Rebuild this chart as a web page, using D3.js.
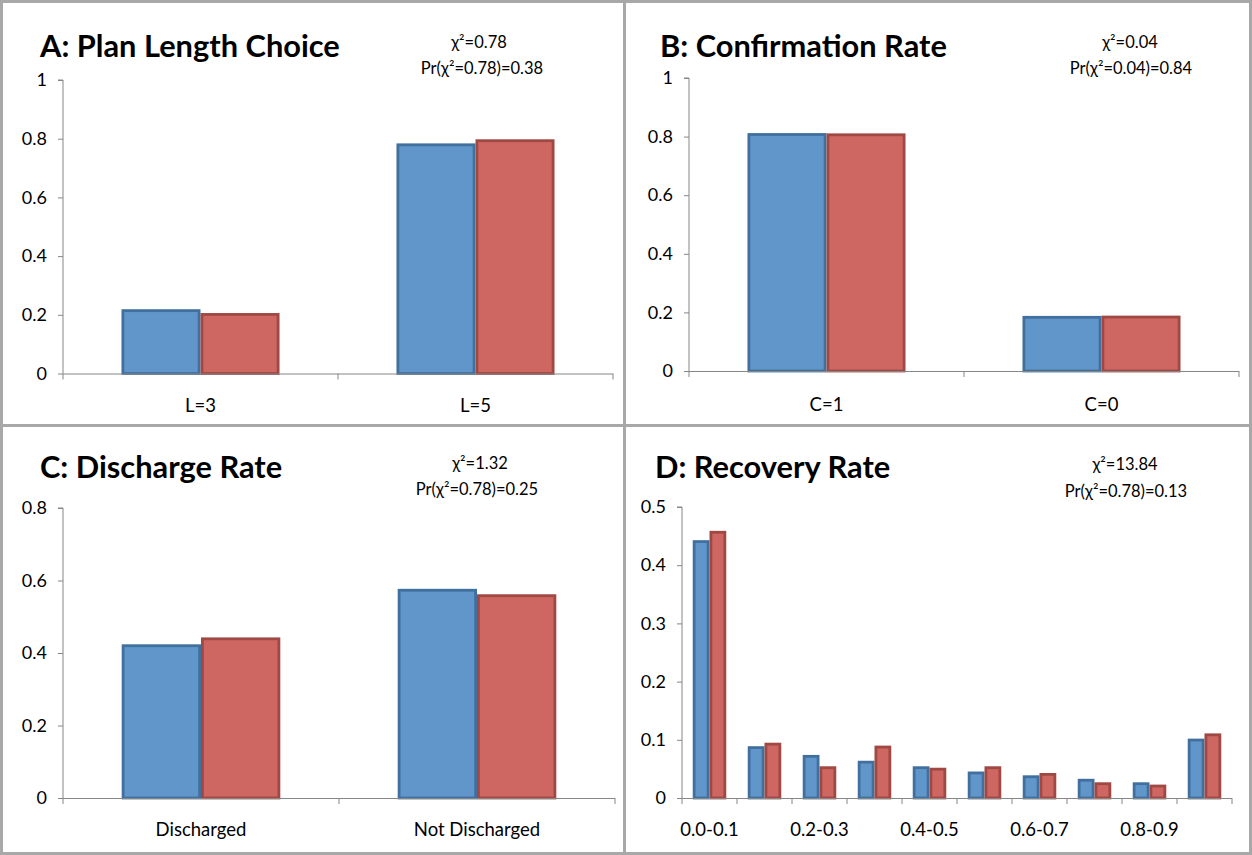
<!DOCTYPE html>
<html><head><meta charset="utf-8">
<script src="https://cdn.jsdelivr.net/npm/d3@7"></script>
<style>
html,body{margin:0;padding:0;background:#fff;}
text{font-family:Lato,"Open Sans",sans-serif;fill:#000;}
</style></head>
<body>
<svg id="chart" width="1252" height="855"></svg>
<script>
// ---------- data ----------
const titles = ["A: Plan Length Choice","B: Confirmation Rate","C: Discharge Rate","D: Recovery Rate"];
const chiLines = ["χ²=0.78","χ²=0.04","χ²=1.32","χ²=13.84"];
const prLines = ["Pr(χ²=0.78)=0.38","Pr(χ²=0.04)=0.84","Pr(χ²=0.78)=0.25","Pr(χ²=0.78)=0.13"];

const catsA = ["L=3","L=5"];
const blueA = [0.219,0.784];
const redA  = [0.206,0.798];

const catsB = ["C=1","C=0"];
const blueB = [0.812,0.188];
const redB  = [0.811,0.189];

const catsC = ["Discharged","Not Discharged"];
const blueC = [0.424,0.577];
const redC  = [0.443,0.562];

const catsD = ["0.0-0.1","0.1-0.2","0.2-0.3","0.3-0.4","0.4-0.5","0.5-0.6","0.6-0.7","0.7-0.8","0.8-0.9","0.9-1.0"];
const shownD = ["0.0-0.1","0.2-0.3","0.4-0.5","0.6-0.7","0.8-0.9"];
const blueD = [0.443,0.089,0.074,0.064,0.0545,0.0455,0.039,0.033,0.027,0.102];
const redD  = [0.459,0.095,0.0545,0.090,0.052,0.0545,0.043,0.027,0.023,0.111];

const yTicksA = [0,0.2,0.4,0.6,0.8,1];
const yTicksC = [0,0.2,0.4,0.6,0.8];
const yTicksD = [0,0.1,0.2,0.3,0.4,0.5];

// ---------- layout / style ----------
const svg = d3.select("#chart");
const blueFill="#6096ca", blueStroke="#41709f", redFill="#ce6661", redStroke="#a04844";
const axisColor="#868686";

const panels = [
 {cats:catsA, blue:blueA, red:redA, shown:catsA, ticks:yTicksA, x0:63, x1:613, yb:373.5, yt:80, title:[40,57], chi:[479,48], pr:[482,74], catY:412, pad:0.74},
 {cats:catsB, blue:blueB, red:redB, shown:catsB, ticks:yTicksA, x0:689, x1:1239, yb:371, yt:78, title:[660,57], chi:[1130,48], pr:[1131,74], catY:411, pad:0.74},
 {cats:catsC, blue:blueC, red:redC, shown:catsC, ticks:yTicksC, x0:63, x1:615, yb:798, yt:508, title:[40,478], chi:[480,469], pr:[477,495], catY:836, pad:0.74},
 {cats:catsD, blue:blueD, red:redD, shown:shownD, ticks:yTicksD, x0:682, x1:1232, yb:798, yt:507, title:[655,478], chi:[1125,470], pr:[1126,497], catY:836, pad:0.64},
];

// frame
svg.append("rect").attr("x",1.5).attr("y",1.5).attr("width",1249).attr("height",852)
  .attr("fill","none").attr("stroke","#a8a8a8").attr("stroke-width",3);
svg.append("line").attr("x1",624.5).attr("x2",624.5).attr("y1",0).attr("y2",855)
  .attr("stroke","#a8a8a8").attr("stroke-width",3);
svg.append("line").attr("x1",0).attr("x2",1252).attr("y1",425.5).attr("y2",425.5)
  .attr("stroke","#a8a8a8").attr("stroke-width",3);

panels.forEach((p,i)=>{
  const g = svg.append("g");
  const yMax = p.ticks[p.ticks.length-1];
  const y = d3.scaleLinear().domain([0,yMax]).range([p.yb,p.yt]);
  const x = d3.scaleBand().domain(p.cats).range([p.x0,p.x1]).paddingInner(0).paddingOuter(0);
  const xs = d3.scaleBand().domain(["blue","red"]).range([0,x.bandwidth()]).paddingInner(0).paddingOuter(p.pad);

  // y axis
  const ya = d3.axisLeft(y).tickValues(p.ticks).tickSize(5).tickPadding(11)
    .tickFormat(d=> d===0 ? "0" : String(+d.toFixed(1)));
  const yg = g.append("g").attr("transform",`translate(${p.x0},0)`).call(ya);
  yg.select(".domain").attr("stroke",axisColor).attr("d",`M-5,${p.yt}H0V${p.yb}`);
  yg.selectAll(".tick line").attr("stroke",axisColor);
  yg.selectAll(".tick text").style("font-size","18px").style("font-family","Lato, sans-serif").attr("fill","#000");

  // bars
  const data = p.cats.map((c,k)=>({c, blue:p.blue[k], red:p.red[k]}));
  const sw = 2.8;
  ["blue","red"].forEach(s=>{
    g.selectAll(null).data(data).enter().append("rect")
      .attr("x",d=>x(d.c)+xs(s)+sw/2)
      .attr("y",d=>y(d[s])+sw/2)
      .attr("width",xs.bandwidth()-sw)
      .attr("height",d=>Math.max(0,y(0)-y(d[s])-sw/2))
      .attr("fill", s==="blue"?blueFill:redFill)
      .attr("stroke", s==="blue"?blueStroke:redStroke)
      .attr("stroke-width",sw);
  });

  // x axis
  g.append("line").attr("x1",p.x0).attr("x2",p.x1).attr("y1",p.yb+0.5).attr("y2",p.yb+0.5)
    .attr("stroke",axisColor).attr("stroke-width",1);
  const bounds = p.cats.map(c=>x(c)).concat([x(p.cats[p.cats.length-1])+x.bandwidth()]);
  g.selectAll(null).data(bounds).enter().append("line")
    .attr("x1",d=>d).attr("x2",d=>d).attr("y1",p.yb).attr("y2",p.yb+6)
    .attr("stroke",axisColor);
  g.selectAll(null).data(p.shown).enter().append("text")
    .attr("x",d=>x(d)+x.bandwidth()/2).attr("y",p.catY)
    .attr("text-anchor","middle").style("font-size","18.5px").text(d=>d);

  // title and stats
  g.append("text").attr("x",p.title[0]).attr("y",p.title[1])
    .style("font-size","30.8px").style("font-weight","bold").text(titles[i]);
  g.append("text").attr("x",p.chi[0]).attr("y",p.chi[1]).attr("text-anchor","middle")
    .style("font-size","16.5px").text(chiLines[i]);
  g.append("text").attr("x",p.pr[0]).attr("y",p.pr[1]).attr("text-anchor","middle")
    .style("font-size","16.5px").text(prLines[i]);
});
</script>
</body></html>
